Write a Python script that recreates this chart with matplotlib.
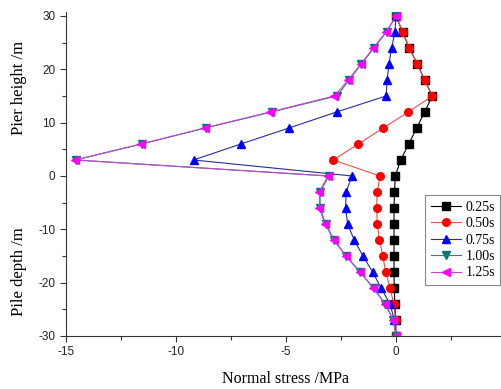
import matplotlib.pyplot as plt

plt.rcParams["axes.unicode_minus"] = False

# depth / height positions (m)
y = [30, 27, 24, 21, 18, 15, 12, 9, 6, 3, 0, -3, -6, -9, -12, -15, -18, -21, -24, -27, -30]

# normal stress (MPa)
s025 = [0, 0.3, 0.6, 0.97, 1.3, 1.65, 1.3, 0.94, 0.58, 0.21, -0.03, -0.07, -0.09,
        -0.09, -0.09, -0.09, -0.09, -0.08, -0.05, -0.02, 0]
s050 = [0, 0.3, 0.6, 0.97, 1.3, 1.65, 0.56, -0.58, -1.71, -2.85, -0.73, -0.85, -0.88,
        -0.85, -0.75, -0.6, -0.47, -0.27, -0.1, -0.02, 0]
s075 = [0, -0.05, -0.2, -0.32, -0.4, -0.45, -2.7, -4.86, -7.05, -9.2, -2.0, -2.27,
        -2.29, -2.2, -1.9, -1.5, -1.06, -0.68, -0.27, -0.08, 0]
s100 = [0, -0.43, -1.0, -1.57, -2.13, -2.68, -5.65, -8.65, -11.55, -14.55, -3.05,
        -3.45, -3.45, -3.2, -2.8, -2.27, -1.62, -1.02, -0.5, -0.12, 0]
s125 = [0, -0.45, -1.03, -1.6, -2.17, -2.8, -5.73, -8.7, -11.6, -14.6, -3.1, -3.48,
        -3.48, -3.23, -2.82, -2.29, -1.64, -1.03, -0.5, -0.12, 0]

labels = ["0.25s", "0.50s", "0.75s", "1.00s", "1.25s"]

fig = plt.figure(figsize=(5.02, 3.89), dpi=100)
ax = fig.add_axes([66 / 502, 53 / 389, 440 / 502, 324.3 / 389])

series = [
    (s025, "black", "black", "s"),
    (s050, "#e8504a", "red", "o"),
    (s075, "#2a2a9a", "blue", "^"),
    (s100, "#1a8a80", "#007b70", "v"),
    (s125, "#d040d0", "magenta", "<"),
]
for (vals, lc, mc, mk), lab in zip(series, labels):
    ax.plot(vals, y, color=lc, lw=0.8, marker=mk, ms=5.5, mfc=mc, mec=mc,
            label=lab)

ax.set_xlim(-15, 5)
ax.set_ylim(-30, 30.8)
ax.set_xticks([-15, -10, -5, 0, 5])
ax.set_xticks([-12.5, -7.5, -2.5, 2.5], minor=True)
ax.set_yticks([-30, -20, -10, 0, 10, 20, 30])
ax.set_yticks([-25, -15, -5, 5, 15, 25], minor=True)
ax.tick_params(which="both", direction="out", width=0.8, colors="#333333",
               labelsize=8.5, labelcolor="#222222")
ax.tick_params(which="major", length=4)
ax.tick_params(which="minor", length=3)
for lab in ax.get_xticklabels() + ax.get_yticklabels():
    lab.set_family("Liberation Sans")
ax.spines["top"].set_visible(False)
ax.spines["right"].set_visible(False)
ax.spines["left"].set_color("#333333")
ax.spines["bottom"].set_color("#333333")

serif = "Liberation Serif"
fig.text(19 / 502, 1 - 88 / 389, "Pier height /m", rotation=90, ha="center",
         va="center", family=serif, fontsize=12)
fig.text(19 / 502, 1 - 272 / 389, "Pile depth /m", rotation=90, ha="center",
         va="center", family=serif, fontsize=12)
fig.text(286 / 502, 1 - 379 / 389, "Normal stress /MPa", ha="center",
         va="center", family=serif, fontsize=11.5)

leg = ax.legend(loc="upper left", bbox_to_anchor=(425 / 502, 1 - 195 / 389),
                bbox_transform=fig.transFigure, prop={"family": serif, "size": 10},
                frameon=True, fancybox=False, framealpha=1, edgecolor="#888888",
                handlelength=2.2, handletextpad=0.3, labelspacing=0.25,
                borderpad=0.4, borderaxespad=0)
leg.get_frame().set_linewidth(0.8)

fig.savefig("out.png", dpi=100)
